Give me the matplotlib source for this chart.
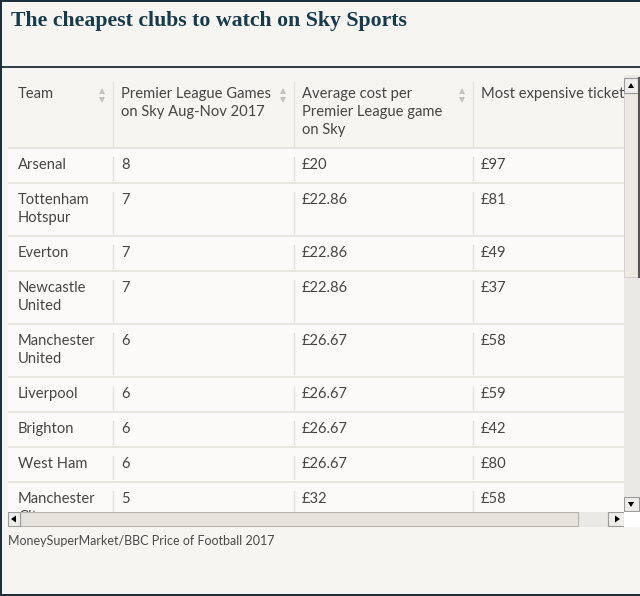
import textwrap
import matplotlib
matplotlib.use("Agg")
import matplotlib.pyplot as plt
from matplotlib.patches import Rectangle, Polygon

# Data
teams = ["Arsenal", "Tottenham Hotspur", "Everton", "Newcastle United",
         "Manchester United", "Liverpool", "Brighton", "West Ham",
         "Manchester City"]
games = [8, 7, 7, 7, 6, 6, 6, 6, 5]
avg_cost = ["£20", "£22.86", "£22.86", "£22.86", "£26.67", "£26.67",
            "£26.67", "£26.67", "£32"]
top_ticket = ["£97", "£81", "£49", "£37", "£58", "£59", "£42", "£80", "£58"]
headers = ["Team", "Premier League Games\non Sky Aug-Nov 2017",
           "Average cost per\nPremier League game\non Sky",
           "Most expensive ticket"]

title = "The cheapest clubs to watch on Sky Sports"
source = "MoneySuperMarket/BBC Price of Football 2017"

W, H = 640, 596
BG = "#f7f5f1"
ROW_BG = "#fbfaf8"
GRID = "#e4e1dc"
TXT = "#454545"
NAVY = "#1d2f3b"
SANS = ["Lato", "DejaVu Sans"]
FS = 10.6

fig = plt.figure(figsize=(W / 100, H / 100), dpi=100)
fig.patch.set_facecolor(BG)
ax = fig.add_axes([0, 0, 1, 1])
ax.set_xlim(0, W)
ax.set_ylim(H, 0)
ax.axis("off")

# frame and title
ax.add_patch(Rectangle((0, 0), 1.5, H, color=NAVY, lw=0))
ax.add_patch(Rectangle((0, 0), W, 1.5, color=NAVY, lw=0))
ax.add_patch(Rectangle((0, H - 2), W, 2, color=NAVY, lw=0))
ax.text(11, 21, title, fontsize=15.7, fontweight="bold", family="Liberation Serif",
        color="#173b4b", va="center", ha="left")
ax.plot([0, W], [67, 67], color=NAVY, lw=1.3)

# table region (clipped)
tx0, ty0, tx1, ty1 = 8, 68, 624, 512
tab = fig.add_axes([tx0 / W, 1 - ty1 / H, (tx1 - tx0) / W, (ty1 - ty0) / H])
tab.set_xlim(tx0, tx1)
tab.set_ylim(ty1, ty0)
tab.axis("off")
tab.patch.set_alpha(0)

col_x = [8, 113, 294, 473, 624]
text_x = [18, 121, 302, 481]

# header
for i, h in enumerate(headers):
    for j, line in enumerate(h.split("\n")):
        tab.text(text_x[i], 94 + 18 * j, line, fontsize=FS, family=SANS,
                 color=TXT, va="center", ha="left", clip_on=True)
    if i < 3:
        ax_x = col_x[i + 1] - 11
        tab.add_patch(Polygon([[ax_x - 3, 94], [ax_x + 3, 94], [ax_x, 88]],
                              color="#c4c2be", lw=0))
        tab.add_patch(Polygon([[ax_x - 3, 97], [ax_x + 3, 97], [ax_x, 103]],
                              color="#c4c2be", lw=0))
for x in col_x[1:4]:
    tab.plot([x, x], [82, 146], color=GRID, lw=1)

# rows
y = 148
for team, g, c, t in zip(teams, games, avg_cost, top_ticket):
    lines = textwrap.wrap(team, 10)
    h = 35 if len(lines) == 1 else 53
    tab.add_patch(Rectangle((tx0, y), tx1 - tx0, h, facecolor=ROW_BG, lw=0))
    tab.plot([tx0, tx1], [y, y], color=GRID, lw=1.2)
    cells = [lines, [str(g)], [c], [t]]
    for i, cell in enumerate(cells):
        for j, line in enumerate(cell):
            tab.text(text_x[i], y + 17 + 18 * j, line, fontsize=FS, family=SANS,
                     color=TXT, va="center", ha="left", clip_on=True)
    for x in col_x[1:4]:
        tab.plot([x, x], [y + 9, y + h - 3], color=GRID, lw=1)
    y += h

# vertical scrollbar
ax.add_patch(Rectangle((624, 75), 16, 437, facecolor="#ebe9e6", lw=0))
ax.add_patch(Rectangle((624, 93), 15, 184, facecolor="#edeae3",
                       edgecolor="#d6d3cd", lw=0.8))
ax.plot([638.5, 638.5], [78, 277], color="#555555", lw=1.5)
ax.add_patch(Rectangle((624, 78), 15, 15, facecolor="#efedea", edgecolor="#9a9a9a", lw=0.8))
ax.add_patch(Polygon([[628, 88], [634, 88], [631, 83]], color="black", lw=0))
ax.add_patch(Rectangle((624, 497), 15, 14, facecolor="#efedea", edgecolor="#9a9a9a", lw=0.8))
ax.add_patch(Polygon([[628, 502], [634, 502], [631, 507]], color="black", lw=0))

# horizontal scrollbar
ax.add_patch(Rectangle((8, 512), 616, 15, facecolor="#ebe9e6", lw=0))
ax.add_patch(Rectangle((20, 512), 558, 14, facecolor="#e6e3dd",
                       edgecolor="#b8b5af", lw=0.8))
ax.add_patch(Rectangle((8, 512), 12, 14, facecolor="#efedea", edgecolor="#9a9a9a", lw=0.8))
ax.add_patch(Polygon([[11, 519], [16, 515.5], [16, 522.5]], color="black", lw=0))
ax.add_patch(Rectangle((608, 512), 16, 14, facecolor="#efedea", edgecolor="#9a9a9a", lw=0.8))
ax.add_patch(Polygon([[620, 519], [615, 515.5], [615, 522.5]], color="black", lw=0))
ax.add_patch(Rectangle((624, 512), 16, 15, facecolor="white", lw=0))

ax.text(8, 541, source, fontsize=9, family=SANS, color="#4a4a4a",
        va="center", ha="left")

fig.savefig("out.png", dpi=100, facecolor=BG)
